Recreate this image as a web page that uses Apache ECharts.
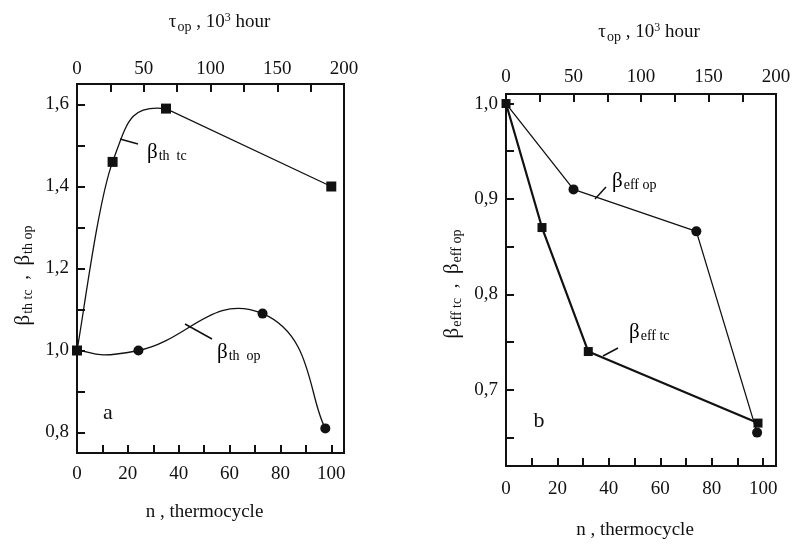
<!DOCTYPE html>
<html>
<head>
<meta charset="utf-8">
<script src="https://cdn.jsdelivr.net/npm/echarts@6/dist/echarts.min.js"></script>
<style>
html, body { margin: 0; padding: 0; background: #fff; }
#main { width: 799px; height: 547px; }
</style>
</head>
<body>
<div id="main"></div>
<script>
// panel a : beta_th
var aTcN = [0, 14, 35, 100];
var aTcBeta = [1.0, 1.46, 1.59, 1.40];
var aOpTau = [0, 46, 139, 186];
var aOpBeta = [1.0, 1.0, 1.09, 0.81];

// panel b : beta_eff
var bTcN = [0, 14, 32, 98];
var bTcBeta = [1.0, 0.87, 0.74, 0.665];
var bOpTau = [0, 50, 141, 186];
var bOpBeta = [1.0, 0.91, 0.866, 0.655];

// axis ticks / labels
var nLabels = [0, 20, 40, 60, 80, 100];
var nTicks = [0, 10, 20, 30, 40, 50, 60, 70, 80, 90, 100];
var tauLabels = [0, 50, 100, 150, 200];
var tauTicks = [0, 25, 50, 75, 100, 125, 150, 175, 200];
var aBetaLabels = [0.8, 1.0, 1.2, 1.4, 1.6];
var aBetaTicks = [0.8, 0.9, 1.0, 1.1, 1.2, 1.3, 1.4, 1.5, 1.6];
var bBetaLabels = [0.7, 0.8, 0.9, 1.0];
var bBetaTicks = [0.65, 0.7, 0.75, 0.8, 0.85, 0.9, 0.95, 1.0];

var serif = 'Liberation Serif';
var ink = '#111';

function pts(xs, ys) {
    return xs.map(function (x, i) { return [x, ys[i]]; });
}
// first point is shared with the square series, no circle there
function opPts(xs, ys) {
    return pts(xs, ys).map(function (p, i) {
        return i === 0 ? { value: p, symbol: 'none' } : { value: p };
    });
}
function comma(v) {
    return v.toFixed(1).replace('.', ',');
}

// hand drawn looking curve through the points (catmull-rom),
// segments from index `straightFrom` on are drawn straight
function curveSeries(xi, yi, xs, ys, straightFrom, k) {
    return {
        type: 'custom', xAxisIndex: xi, yAxisIndex: yi, silent: true,
        data: pts(xs, ys),
        renderItem: function (params, api) {
            if (params.dataIndex !== 0) return null;
            var c = xs.map(function (x, i) { return api.coord([x, ys[i]]); });
            var n = c.length;
            var d = 'M' + c[0][0] + ' ' + c[0][1];
            for (var i = 0; i < n - 1; i++) {
                var p0 = c[Math.max(i - 1, 0)], p1 = c[i], p2 = c[i + 1], p3 = c[Math.min(i + 2, n - 1)];
                if (i >= straightFrom) {
                    d += ' L' + p2[0] + ' ' + p2[1];
                    continue;
                }
                var c1x = p1[0] + (p2[0] - p0[0]) * k, c1y = p1[1] + (p2[1] - p0[1]) * k;
                var c2x = p2[0] - (p3[0] - p1[0]) * k, c2y = p2[1] - (p3[1] - p1[1]) * k;
                d += ' C' + c1x + ' ' + c1y + ' ' + c2x + ' ' + c2y + ' ' + p2[0] + ' ' + p2[1];
            }
            return {
                type: 'path', shape: { pathData: d },
                style: { fill: 'none', stroke: ink, lineWidth: 1.3 }
            };
        }
    };
}

var rich = {
    b: { fontFamily: serif, fontSize: 21, color: ink },
    t: { fontFamily: serif, fontSize: 19, color: ink },
    s: { fontFamily: serif, fontSize: 14, color: ink, padding: [9, 0, 0, 1] },
    n: { fontFamily: serif, fontSize: 19, color: ink },
    sup: { fontFamily: serif, fontSize: 12, color: ink, padding: [0, 0, 9, 0] }
};

function xAx(grid, pos, max, labels, ticks, gap, margin, name, pad) {
    return {
        type: 'value', gridIndex: grid, position: pos, min: 0, max: max,
        name: name, nameLocation: 'middle', nameGap: gap,
        nameTextStyle: { rich: rich, fontFamily: serif, fontSize: 19, color: ink, padding: pad },
        axisLine: { onZero: false, lineStyle: { color: ink, width: 2 } },
        axisTick: { inside: true, length: 8, customValues: ticks, lineStyle: { color: ink, width: 2 } },
        axisLabel: { customValues: labels, margin: margin, fontFamily: serif, fontSize: 19, color: ink },
        splitLine: { show: false }
    };
}
function yAx(grid, min, max, labels, ticks, name, pad) {
    return {
        type: 'value', gridIndex: grid, min: min, max: max,
        name: name, nameLocation: 'middle', nameGap: 42, nameRotate: 90,
        nameTextStyle: { rich: rich, fontFamily: serif, fontSize: 19, color: ink, padding: pad },
        axisLine: { lineStyle: { color: ink, width: 2 } },
        axisTick: { inside: true, length: 8, customValues: ticks, lineStyle: { color: ink, width: 2 } },
        axisLabel: { customValues: labels, margin: 8, formatter: comma, fontFamily: serif, fontSize: 19, color: ink },
        splitLine: { show: false }
    };
}

var tauName = '{t|τ}{s|op}{n| , 10}{sup|3}{n| hour}';
var nName = 'n , thermocycle';

var myChart = echarts.init(document.getElementById('main'));
var option = {
    backgroundColor: '#fff',
    animation: false,
    grid: [
        { left: 77, top: 84, width: 267, height: 369, show: true, borderColor: ink, borderWidth: 2 },
        { left: 506, top: 94, width: 270, height: 372, show: true, borderColor: ink, borderWidth: 2 }
    ],
    xAxis: [
        xAx(0, 'bottom', 105, nLabels, nTicks, 50, 12, nName, [0, 12, 0, 0]),
        xAx(0, 'top', 200, tauLabels, tauTicks, 50, 5, tauName, [0, 0, 0, 18]),
        xAx(1, 'bottom', 105, nLabels, nTicks, 55, 14, nName, [0, 12, 0, 0]),
        xAx(1, 'top', 200, tauLabels, tauTicks, 50, 7, tauName, [0, 0, 0, 16])
    ],
    yAxis: [
        yAx(0, 0.75, 1.65, aBetaLabels, aBetaTicks, '{b|β}{s|th tc}{n|  ,  }{b|β}{s|th op}', [0, 14, 0, 0]),
        yAx(1, 0.62, 1.01, bBetaLabels, bBetaTicks, '{b|β}{s|eff tc}{n|  ,  }{b|β}{s|eff op}', [0, 8, 0, 0])
    ],
    series: [
        curveSeries(0, 0, aTcN, aTcBeta, 2, 1 / 6),
        curveSeries(1, 0, aOpTau, aOpBeta, 99, 0.27),
        {
            name: 'beta th tc', type: 'scatter', xAxisIndex: 0, yAxisIndex: 0,
            data: pts(aTcN, aTcBeta), symbol: 'rect', symbolSize: 10,
            itemStyle: { color: ink, opacity: 1 }
        },
        {
            name: 'beta th op', type: 'scatter', xAxisIndex: 1, yAxisIndex: 0,
            data: opPts(aOpTau, aOpBeta), symbol: 'circle', symbolSize: 10,
            itemStyle: { color: ink, opacity: 1 }
        },
        {
            name: 'beta eff tc', type: 'line', xAxisIndex: 2, yAxisIndex: 1,
            data: pts(bTcN, bTcBeta),
            symbol: 'rect', symbolSize: 9,
            lineStyle: { color: ink, width: 2.2 }, itemStyle: { color: ink }
        },
        {
            name: 'beta eff op', type: 'line', xAxisIndex: 3, yAxisIndex: 1,
            data: opPts(bOpTau, bOpBeta),
            symbol: 'circle', symbolSize: 10,
            lineStyle: { color: ink, width: 1.3 }, itemStyle: { color: ink }
        }
    ],
    graphic: [
        // leader lines
        { type: 'line', shape: { x1: 120, y1: 139, x2: 138, y2: 144 }, style: { stroke: ink, lineWidth: 1.5 } },
        { type: 'line', shape: { x1: 185, y1: 324, x2: 212, y2: 339 }, style: { stroke: ink, lineWidth: 1.5 } },
        { type: 'line', shape: { x1: 595, y1: 199, x2: 606, y2: 187 }, style: { stroke: ink, lineWidth: 1.5 } },
        { type: 'line', shape: { x1: 603, y1: 356, x2: 618, y2: 348 }, style: { stroke: ink, lineWidth: 1.5 } },
        // series labels
        { type: 'text', x: 147, y: 152, style: { text: '{b|β}{s|th  tc}', rich: rich, verticalAlign: 'middle' } },
        { type: 'text', x: 217, y: 352, style: { text: '{b|β}{s|th  op}', rich: rich, verticalAlign: 'middle' } },
        { type: 'text', x: 612, y: 181, style: { text: '{b|β}{s|eff op}', rich: rich, verticalAlign: 'middle' } },
        { type: 'text', x: 629, y: 332, style: { text: '{b|β}{s|eff tc}', rich: rich, verticalAlign: 'middle' } },
        // panel letters
        { type: 'text', x: 108, y: 413, style: { text: 'a', fontFamily: serif, fontSize: 22, fill: ink, align: 'center', verticalAlign: 'middle' } },
        { type: 'text', x: 539, y: 421, style: { text: 'b', fontFamily: serif, fontSize: 22, fill: ink, align: 'center', verticalAlign: 'middle' } }
    ]
};
myChart.setOption(option);
</script>
</body>
</html>
